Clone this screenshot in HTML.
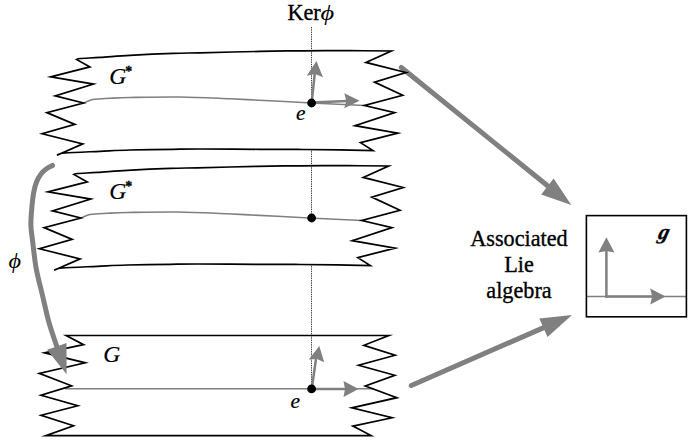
<!DOCTYPE html>
<html><head><meta charset="utf-8"><title>Lie group covering</title>
<style>
html,body{margin:0;padding:0;background:#fff;}
svg{display:block;}
text{font-family:"Liberation Serif",serif;fill:#000;stroke:#000;stroke-width:0.35px;}
.it{font-style:italic;stroke-width:0.2px;}
</style></head><body>
<svg width="693" height="445" viewBox="0 0 693 445">
<rect width="693" height="445" fill="#fff"/>
<!-- dotted kernel line -->
<line x1="311.5" y1="27" x2="311.5" y2="389" stroke="#000" stroke-width="0.75" stroke-dasharray="1.4 0.9"/>
<!-- sheet 1 -->
<g id="s1">
<path d="M 76.6,59.5 C 77.1,59.3 76.1,58.8 80.0,58.5 C 83.9,58.2 91.7,57.9 100.0,57.4 C 108.3,56.9 117.8,56.1 130.0,55.4 C 142.2,54.7 161.3,53.8 173.0,53.4 C 184.7,53.0 185.5,53.1 200.0,52.8 C 214.5,52.5 242.8,51.7 260.0,51.4 C 277.2,51.1 288.0,50.9 303.0,50.8 C 318.0,50.7 335.3,50.7 350.0,50.7 C 364.7,50.7 384.4,51.0 391.3,51.0 L 365.9,62.4 L 405.9,72.5 L 374.5,82.1 L 402.7,95.2 L 364.5,105.5 L 394.7,112.6 L 355.0,125.7 L 397.8,133.1 L 360.5,142.6 L 373.0,150.6 L 373.0,150.6 C 367.5,150.5 351.7,150.1 340.0,149.9 C 328.3,149.7 316.3,149.6 303.0,149.5 C 289.7,149.4 277.2,149.4 260.0,149.3 C 242.8,149.2 214.5,149.0 200.0,149.0 C 185.5,149.0 184.7,149.1 173.0,149.3 C 161.3,149.5 142.2,149.7 130.0,150.0 C 117.8,150.3 110.8,150.8 100.0,151.3 C 89.2,151.8 72.2,152.4 65.0,153.0 C 57.8,153.6 58.2,154.8 56.9,155.2 L 82.8,143.9 L 42.2,133.8 L 74.9,124.4 L 46.8,112.6 L 83.5,103.0 L 55.2,95.9 L 93.5,84.1 L 50.7,76.9 L 89.9,66.9 L 76.6,59.5 Z" fill="#fff" stroke="none"/>
<line x1="311.5" y1="50" x2="311.5" y2="103" stroke="#000" stroke-width="0.75" stroke-dasharray="1.4 0.9"/>
<path d="M 83.5,103.0 C 84.6,102.6 88.1,100.9 90.0,100.3 C 91.9,99.7 91.7,99.6 95.0,99.3 C 98.3,99.0 104.2,98.6 110.0,98.3 C 115.8,98.0 118.3,97.7 130.0,97.5 C 141.7,97.3 163.3,96.8 180.0,97.0 C 196.7,97.2 213.3,98.1 230.0,98.8 C 246.7,99.5 266.4,100.6 280.0,101.3 C 293.6,102.0 306.5,102.7 311.8,103.0 L 364.5,105.5" fill="none" stroke="#808080" stroke-width="1.6"/>
<g stroke="#808080" fill="#808080" stroke-linecap="round">
<line x1="401.3" y1="67.5" x2="550" y2="187.7" stroke-width="5"/>
<path d="M 571.3,205.0 L 541.2,194.4 L 547.4,186.5 L 553.6,178.6 Z" stroke="none"/>
</g>
<path d="M 76.6,59.5 C 77.1,59.3 76.1,58.8 80.0,58.5 C 83.9,58.2 91.7,57.9 100.0,57.4 C 108.3,56.9 117.8,56.1 130.0,55.4 C 142.2,54.7 161.3,53.8 173.0,53.4 C 184.7,53.0 185.5,53.1 200.0,52.8 C 214.5,52.5 242.8,51.7 260.0,51.4 C 277.2,51.1 288.0,50.9 303.0,50.8 C 318.0,50.7 335.3,50.7 350.0,50.7 C 364.7,50.7 384.4,51.0 391.3,51.0 L 365.9,62.4 L 405.9,72.5 L 374.5,82.1 L 402.7,95.2 L 364.5,105.5 L 394.7,112.6 L 355.0,125.7 L 397.8,133.1 L 360.5,142.6 L 373.0,150.6 L 373.0,150.6 C 367.5,150.5 351.7,150.1 340.0,149.9 C 328.3,149.7 316.3,149.6 303.0,149.5 C 289.7,149.4 277.2,149.4 260.0,149.3 C 242.8,149.2 214.5,149.0 200.0,149.0 C 185.5,149.0 184.7,149.1 173.0,149.3 C 161.3,149.5 142.2,149.7 130.0,150.0 C 117.8,150.3 110.8,150.8 100.0,151.3 C 89.2,151.8 72.2,152.4 65.0,153.0 C 57.8,153.6 58.2,154.8 56.9,155.2 L 82.8,143.9 L 42.2,133.8 L 74.9,124.4 L 46.8,112.6 L 83.5,103.0 L 55.2,95.9 L 93.5,84.1 L 50.7,76.9 L 89.9,66.9 L 76.6,59.5 Z" fill="none" stroke="#000" stroke-width="1.7" stroke-linejoin="miter" stroke-miterlimit="10"/>
</g>
<!-- sheet 2 -->
<g transform="translate(-2.7,115)">
<path d="M 76.6,59.5 C 77.1,59.3 76.1,58.8 80.0,58.5 C 83.9,58.2 91.7,57.9 100.0,57.4 C 108.3,56.9 117.8,56.1 130.0,55.4 C 142.2,54.7 161.3,53.8 173.0,53.4 C 184.7,53.0 185.5,53.1 200.0,52.8 C 214.5,52.5 242.8,51.7 260.0,51.4 C 277.2,51.1 288.0,50.9 303.0,50.8 C 318.0,50.7 335.3,50.7 350.0,50.7 C 364.7,50.7 384.4,51.0 391.3,51.0 L 365.9,62.4 L 405.9,72.5 L 374.5,82.1 L 402.7,95.2 L 364.5,105.5 L 394.7,112.6 L 355.0,125.7 L 397.8,133.1 L 360.5,142.6 L 373.0,150.6 L 373.0,150.6 C 367.5,150.5 351.7,150.1 340.0,149.9 C 328.3,149.7 316.3,149.6 303.0,149.5 C 289.7,149.4 277.2,149.4 260.0,149.3 C 242.8,149.2 214.5,149.0 200.0,149.0 C 185.5,149.0 184.7,149.1 173.0,149.3 C 161.3,149.5 142.2,149.7 130.0,150.0 C 117.8,150.3 110.8,150.8 100.0,151.3 C 89.2,151.8 72.2,152.4 65.0,153.0 C 57.8,153.6 58.2,154.8 56.9,155.2 L 82.8,143.9 L 42.2,133.8 L 74.9,124.4 L 46.8,112.6 L 83.5,103.0 L 55.2,95.9 L 93.5,84.1 L 50.7,76.9 L 89.9,66.9 L 76.6,59.5 Z" fill="#fff" stroke="none"/>
<path d="M 83.5,103.0 C 84.6,102.6 88.1,100.9 90.0,100.3 C 91.9,99.7 91.7,99.6 95.0,99.3 C 98.3,99.0 104.2,98.6 110.0,98.3 C 115.8,98.0 118.3,97.7 130.0,97.5 C 141.7,97.3 163.3,96.8 180.0,97.0 C 196.7,97.2 213.3,98.1 230.0,98.8 C 246.7,99.5 266.4,100.6 280.0,101.3 C 293.6,102.0 306.5,102.7 311.8,103.0 L 364.5,105.5" fill="none" stroke="#808080" stroke-width="1.6"/>
<path d="M 76.6,59.5 C 77.1,59.3 76.1,58.8 80.0,58.5 C 83.9,58.2 91.7,57.9 100.0,57.4 C 108.3,56.9 117.8,56.1 130.0,55.4 C 142.2,54.7 161.3,53.8 173.0,53.4 C 184.7,53.0 185.5,53.1 200.0,52.8 C 214.5,52.5 242.8,51.7 260.0,51.4 C 277.2,51.1 288.0,50.9 303.0,50.8 C 318.0,50.7 335.3,50.7 350.0,50.7 C 364.7,50.7 384.4,51.0 391.3,51.0 L 365.9,62.4 L 405.9,72.5 L 374.5,82.1 L 402.7,95.2 L 364.5,105.5 L 394.7,112.6 L 355.0,125.7 L 397.8,133.1 L 360.5,142.6 L 373.0,150.6 L 373.0,150.6 C 367.5,150.5 351.7,150.1 340.0,149.9 C 328.3,149.7 316.3,149.6 303.0,149.5 C 289.7,149.4 277.2,149.4 260.0,149.3 C 242.8,149.2 214.5,149.0 200.0,149.0 C 185.5,149.0 184.7,149.1 173.0,149.3 C 161.3,149.5 142.2,149.7 130.0,150.0 C 117.8,150.3 110.8,150.8 100.0,151.3 C 89.2,151.8 72.2,152.4 65.0,153.0 C 57.8,153.6 58.2,154.8 56.9,155.2 L 82.8,143.9 L 42.2,133.8 L 74.9,124.4 L 46.8,112.6 L 83.5,103.0 L 55.2,95.9 L 93.5,84.1 L 50.7,76.9 L 89.9,66.9 L 76.6,59.5 Z" fill="none" stroke="#000" stroke-width="1.7" stroke-linejoin="miter" stroke-miterlimit="10"/>
</g>
<line x1="311.5" y1="165" x2="311.5" y2="218" stroke="#000" stroke-width="0.75" stroke-dasharray="1.4 0.9"/>
<!-- sheet 3 -->
<path d="M 66.2,335.5 L 388.8,335.5 L 363.9,345.3 L 395.1,355.3 L 358.6,365.3 L 394.8,375.3 L 365.3,386.0 L 396.9,397.7 L 351.8,407.8 L 392.1,417.8 L 352.9,426.1 L 371.1,435.6 L 45.8,435.6 L 73.5,425.8 L 41.1,415.3 L 77.8,405.8 L 41.0,395.3 L 71.6,385.8 L 39.3,373.4 L 85.3,362.8 L 44.5,352.8 L 83.6,344.7 L 66.2,335.5 Z" fill="#fff" stroke="none"/>
<line x1="311.5" y1="335" x2="311.5" y2="389" stroke="#000" stroke-width="0.75" stroke-dasharray="1.4 0.9"/>
<line x1="65" y1="388.7" x2="374" y2="388.7" stroke="#808080" stroke-width="1.5"/>
<path d="M 66.2,335.5 L 388.8,335.5 L 363.9,345.3 L 395.1,355.3 L 358.6,365.3 L 394.8,375.3 L 365.3,386.0 L 396.9,397.7 L 351.8,407.8 L 392.1,417.8 L 352.9,426.1 L 371.1,435.6 L 45.8,435.6 L 73.5,425.8 L 41.1,415.3 L 77.8,405.8 L 41.0,395.3 L 71.6,385.8 L 39.3,373.4 L 85.3,362.8 L 44.5,352.8 L 83.6,344.7 L 66.2,335.5 Z" fill="none" stroke="#000" stroke-width="1.7" stroke-linejoin="miter" stroke-miterlimit="10"/>
<!-- small arrows sheet 1 -->
<g stroke="#808080" fill="#808080">
<line x1="311.7" y1="102.6" x2="314.8" y2="73" stroke-width="2.5"/>
<path d="M 316.4,61.1 L 323.0,77.3 L 315.1,74.0 L 306.8,75.7 Z" stroke="none"/>
<line x1="311.7" y1="102.6" x2="347" y2="101" stroke-width="2.5"/>
<path d="M 359.6,100.8 L 344.3,108.3 L 346.3,100.8 L 344.3,93.3 Z" stroke="none"/>
<!-- small arrows sheet 3 -->
<line x1="311.7" y1="389" x2="316" y2="359" stroke-width="2.5"/>
<path d="M 319.3,346.0 L 324.2,362.3 L 316.9,358.9 L 308.8,359.5 Z" stroke="none"/>
<line x1="311.7" y1="389" x2="346" y2="389" stroke-width="2.5"/>
<path d="M 358.6,389.0 L 343.5,397.0 L 345.0,389.0 L 343.5,381.0 Z" stroke="none"/>
</g>
<!-- dots -->
<circle cx="311.6" cy="103" r="4.4" fill="#000"/>
<circle cx="311.6" cy="218" r="4.4" fill="#000"/>
<circle cx="311.6" cy="388.9" r="4.4" fill="#000"/>
<!-- big arrows -->
<g stroke="#808080" fill="#808080" stroke-linecap="round">
<line x1="411.3" y1="385.5" x2="546" y2="326.6" stroke-width="5"/>
<path d="M 572.0,315.0 L 547.5,337.0 L 543.4,327.8 L 539.3,318.6 Z" stroke="none"/>
<path d="M 52.5,165.5 C 51.5,166.1 48.4,167.4 46.5,168.8 C 44.6,170.2 42.7,171.8 41.0,174.0 C 39.3,176.2 37.7,179.0 36.5,182.0 C 35.3,185.0 34.6,187.7 33.8,192.0 C 33.0,196.3 32.3,202.5 31.8,208.0 C 31.3,213.5 30.8,219.7 30.9,225.0 C 31.0,230.3 31.6,232.9 32.5,240.0 C 33.4,247.1 34.4,258.3 36.0,267.5 C 37.6,276.7 40.2,285.8 42.4,295.0 C 44.6,304.2 46.6,313.9 49.0,322.5 C 51.4,331.1 55.5,342.4 56.8,346.4" fill="none" stroke-width="5"/>
<path d="M 66.6,374.3 L 47.1,349.8 L 56.8,346.4 L 66.5,343.0 Z" stroke="none"/>
</g>
<!-- box -->
<line x1="586.4" y1="296.5" x2="686.4" y2="296.5" stroke="#808080" stroke-width="1.5"/>
<rect x="586.4" y="215.6" width="100" height="101.2" fill="none" stroke="#000" stroke-width="1.6"/>
<g stroke="#808080" fill="#808080">
<line x1="606.4" y1="297.7" x2="606.4" y2="250" stroke-width="2.5"/>
<path d="M 606.4,237.2 L 614.4,252.6 L 606.4,251.1 L 598.4,252.6 Z" stroke="none"/>
<line x1="605.2" y1="296.5" x2="653" y2="296.5" stroke-width="2.5"/>
<path d="M 665.6,296.5 L 650.2,304.4 L 652.2,296.5 L 650.2,288.6 Z" stroke="none"/>
</g>
<!-- labels -->
<text x="287.5" y="19.6" font-size="22.2">Ker</text>
<text transform="translate(320.4,19.6) scale(1.2,1)" font-size="22" class="it" style="stroke:none">ϕ</text>
<text x="109.3" y="83.8" font-size="23.6" class="it">G</text>
<text x="125.2" y="75.6" font-size="14" font-weight="bold">*</text>
<text x="109.3" y="198.8" font-size="23.6" class="it">G</text>
<text x="125.2" y="190.6" font-size="14" font-weight="bold">*</text>
<text x="103.3" y="362.2" font-size="23.6" class="it">G</text>
<text x="295.9" y="120.1" font-size="21.4" class="it">e</text>
<text x="290.6" y="408.0" font-size="21.4" class="it">e</text>
<text transform="translate(8.6,267.8) scale(1.1,1)" font-size="22" class="it" style="stroke:none">ϕ</text>
<text x="519" y="245.5" font-size="22.2" text-anchor="middle">Associated</text>
<text x="519" y="272" font-size="22.2" text-anchor="middle">Lie</text>
<text x="519" y="297.5" font-size="22.2" text-anchor="middle">algebra</text>
<text transform="translate(657.2,238.6) skewX(-14)" x="0" y="0" font-size="21.5" font-style="italic" font-weight="bold">g</text>
</svg>
</body></html>
